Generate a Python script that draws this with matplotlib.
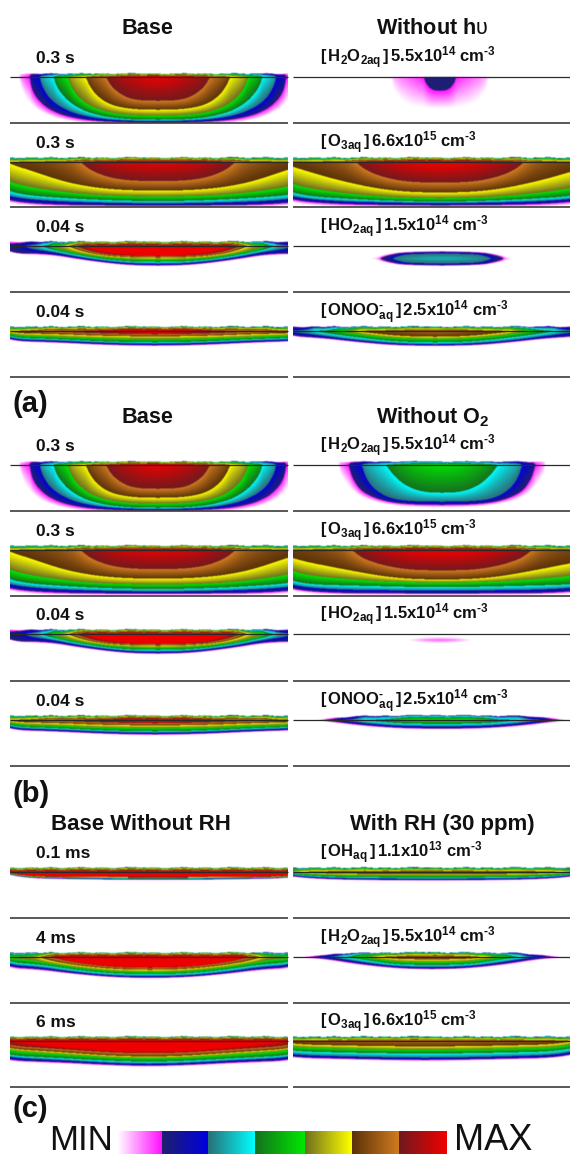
# Aqueous density maps, three groups of panels with one shared colour scale
import numpy as np
import matplotlib
matplotlib.use("Agg")
import matplotlib.pyplot as plt
from matplotlib.colors import LinearSegmentedColormap

plt.rcParams['font.family'] = ['Liberation Sans', 'DejaVu Sans']
plt.rcParams['mathtext.fontset'] = 'custom'
plt.rcParams['mathtext.rm'] = 'Liberation Sans'
plt.rcParams['mathtext.bf'] = 'Liberation Sans:bold'
plt.rcParams['mathtext.it'] = 'Liberation Sans:italic'

# band colours, dark end then bright end of each band
band_colors = [
    ("#ffffff", "#ff10ff"), ("#20206e", "#0000e0"), ("#2a6f78", "#00ffff"),
    ("#15701f", "#00e800"), ("#6f6f20", "#ffff00"), ("#5a3208", "#d07a20"),
    ("#701a1e", "#f00000"),
]

# Each map is 8 contours (band edges, outermost first), each contour is
# (distance from centre, depth under the surface) in px.
h2o2_base = [
    [(0,47),(70,46.5),(100,42),(118,35),(129,26),(135,16),(138,6),(138.5,0)],
    [(0,46),(60,44.5),(90,40),(108,33),(119,24),(125,15),(127.5,6),(128,0)],
    [(0,44.5),(50,43),(80,38),(98,30),(109,21),(115,11),(117.5,4),(118,0)],
    [(0,43),(40,42),(70,36),(88,26),(98,15),(103,6),(104,0)],
    [(0,39),(40,37.5),(65,31),(79,21),(87,10),(90,0)],
    [(0,33),(30,32),(50,27),(62,18),(69,8),(72,0)],
    [(0,24),(25,23),(38,17),(47,9),(52,0)],
    [(0,0),(20,-6),(50,-30)],
]
o3_base = [
    [(0,45.5),(150,44.5)],
    [(0,44),(150,42)],
    [(0,42.5),(150,38)],
    [(0,39.5),(75,37.5),(150,32)],
    [(0,35),(75,33),(150,22)],
    [(0,29),(50,27.5),(90,21),(120,11),(148,2),(155,-2)],
    [(0,19.5),(40,18),(65,10),(78,0)],
    [(0,0),(50,-8),(80,-30)],
]
ho2_base = [
    [(0,20.5),(35,19.5),(75,14.5),(110,9),(150,8)],
    [(0,19.5),(35,18.5),(75,13.5),(110,7.5),(150,7.5)],
    [(0,18),(35,17),(75,12),(105,6),(128,3),(135,-1)],
    [(0,16),(40,15),(75,10),(100,5),(112,2),(118,-1)],
    [(0,13.5),(40,12.5),(70,9),(90,5),(103,2),(106,-1)],
    [(0,12),(40,11),(65,8),(82,3.5),(92,-1)],
    [(0,10.5),(40,9.5),(60,7),(75,3),(85,-1)],
    [(0,9.5),(30,8.5),(55,5.5),(68,2),(75,-2)],
]
onoo_base = [
    [(0,15.5),(50,14.5),(100,12),(150,10.5)],
    [(0,14.5),(50,13.5),(100,11),(150,9.5)],
    [(0,13),(50,12),(100,9.5),(150,8)],
    [(0,11.5),(50,10.5),(100,8),(150,6.5)],
    [(0,8),(50,7.5),(100,5.5),(150,4)],
    [(0,5.5),(50,5),(100,3),(150,2)],
    [(0,3.5),(50,2.5),(90,1),(120,-1)],
    [(0,2),(30,0.5),(60,-3)],
]
h2o2_no_hv = [
    [(0,32),(25,30),(38,24),(45,15),(48,6),(49,0)],
    [(0,14),(8,13),(13,8),(15.5,3),(16,-1),(30,-12),(50,-30)],
    [], [], [], [], [], [],
]
o3_no_hv = [
    [(0,45.5),(150,44)],
    [(0,44),(150,41)],
    [(0,42),(150,38)],
    [(0,40),(75,38),(150,33)],
    [(0,37),(75,34),(150,24)],
    [(0,31),(50,29),(100,19),(147,5),(160,0)],
    [(0,21),(40,19.5),(70,11),(85,0)],
    [(0,3),(40,-3),(90,-25)],
]
ho2_no_hv = [
    [(0,7.8),(40,6.8),(55,4.5),(65,2),(73,0)],
    [(0,7),(40,6),(50,4),(58,2),(62,0)],
    [(0,5),(35,4.5),(45,2),(50,0)],
    [(0,-1),(60,-20)],
    [], [], [], [],
]
onoo_no_hv = [
    [(0,15.5),(40,15),(80,11.5),(110,8),(150,5.5)],
    [(0,14.5),(40,14),(80,10.5),(110,7),(150,4.5)],
    [(0,13.5),(40,12.5),(80,9),(110,5),(135,2),(150,-0.5)],
    [(0,11.5),(40,10.5),(80,6),(110,2),(125,-1)],
    [(0,8),(40,7),(70,4),(100,-0.5)],
    [(0,6),(35,5),(60,2.5),(80,0)],
    [(0,-1),(40,-6),(80,-20)],
    [],
]
h2o2_no_o2 = [
    [(0,42.5),(40,41.5),(68,37),(85,30),(96,19),(102,8),(103,0)],
    [(0,40),(40,39),(62,35),(80,27),(88,16),(92,6),(93,0)],
    [(0,37),(40,36),(58,31),(70,22),(77,11),(80,0)],
    [(0,28),(20,27),(36,21),(48,11),(56,0)],
    [(0,-2),(25,-8),(60,-35)],
    [], [], [],
]
o3_no_o2 = [
    [(0,45),(150,44.7)],
    [(0,43.5),(150,42.7)],
    [(0,41),(150,39)],
    [(0,37.5),(75,36),(150,34)],
    [(0,33),(75,31),(150,24)],
    [(0,30),(50,28),(100,19),(150,9),(165,0)],
    [(0,20.7),(40,19.5),(75,11),(91,0)],
    [(0,2),(50,-3),(95,-25)],
]
ho2_no_o2 = [
    [(0,3.2),(15,2.8),(25,1.8),(33,0)],
    [(0,-1),(20,-3),(40,-10)],
    [], [], [], [], [], [],
]
onoo_no_o2 = [
    [(0,9.5),(40,9),(80,6.5),(110,2.5),(128,0.3),(135,-1)],
    [(0,8.5),(40,8),(75,5.5),(105,2),(120,0)],
    [(0,6.5),(40,6),(70,4),(95,1),(105,-1)],
    [(0,4),(40,3.5),(65,1.5),(85,-1)],
    [(0,0.5),(30,0),(50,-2)],
    [], [], [],
]
oh_no_rh = [
    [(0,8.2),(60,7.9),(150,6.2)],
    [(0,7.6),(60,7.3),(150,5.8)],
    [(0,7),(60,6.7),(150,5.5)],
    [(0,6.4),(60,6.1),(150,5.2)],
    [(0,5.9),(60,5.6),(150,4.9)],
    [(0,5.4),(60,5.1),(150,4.6)],
    [(0,5),(60,4.7),(150,4.3)],
    [(0,4.5),(60,4.2),(150,3.8)],
]
h2o2_no_rh = [
    [(0,21.7),(40,20.7),(80,17),(110,13.5),(145,11.7)],
    [(0,20.7),(40,19.8),(80,16),(110,12),(145,10)],
    [(0,19.3),(40,18.5),(80,14.5),(110,10),(145,7.7)],
    [(0,17.3),(40,16.5),(80,12),(110,7.5),(145,5)],
    [(0,15),(40,14),(80,9.5),(110,4.5),(125,2),(145,1)],
    [(0,13),(40,12),(80,7.5),(105,2.5),(112,-1)],
    [(0,11),(40,10),(80,5),(95,1),(105,-1)],
    [(0,10),(40,9),(75,5),(90,1),(98,-1)],
]
o3_no_rh = [
    [(0,26),(40,25),(90,22.5),(150,20.3)],
    [(0,24.7),(40,23.7),(90,21),(150,19)],
    [(0,23),(40,22),(90,19),(150,16.3)],
    [(0,20.7),(40,19.7),(90,17),(150,14)],
    [(0,17.3),(40,16.3),(90,13),(150,9)],
    [(0,15.7),(40,14.7),(90,11),(150,7.3)],
    [(0,12.3),(40,11.5),(90,8),(150,4)],
    [(0,10.7),(40,10),(90,5.5),(125,2),(140,-1)],
]
oh_rh = [
    [(0,9.3),(150,7.3)],
    [(0,8.5),(150,6.5)],
    [(0,7.3),(150,5.5)],
    [(0,5.7),(150,4.5)],
    [(0,3.5),(150,3)],
    [(0,2),(150,1.5)],
    [(0,-0.5),(150,-4)],
    [],
]
h2o2_rh = [
    [(0,12.7),(35,12),(75,8),(105,3),(125,1),(145,0.3)],
    [(0,12),(35,11),(72,7),(100,2.5),(120,0.3),(130,-1)],
    [(0,10.3),(35,9.5),(65,6),(90,2),(105,0),(115,-1)],
    [(0,8),(35,7.5),(60,4),(80,1),(95,-1)],
    [(0,5.3),(35,4.5),(55,2),(70,0),(80,-1)],
    [(0,2.5),(35,2),(50,0),(60,-1)],
    [(0,-0.5),(35,-3),(60,-8)],
    [],
]
o3_rh = [
    [(0,20.3),(60,19.3),(150,17)],
    [(0,19),(60,18),(150,16)],
    [(0,17),(60,16),(150,13.5)],
    [(0,12.7),(60,12),(150,10)],
    [(0,8.5),(60,8),(150,6)],
    [(0,5.5),(60,5),(150,3)],
    [(0,-1),(150,-5)],
    [],
]

# thickness of the thin layer above the surface (distance from centre, px)
top_full = [(0, 3.5), (170, 3.5)]
top_thick = [(0, 4.5), (170, 4.5)]
top_lens = [(0, 5), (85, 4), (110, 2), (130, 0)]
top_none = [(0, 0), (170, 0)]
top_wobble = [1.0, 0.85, 1.05, 0.9, 1.1, 0.85, 1.0, 1.1, 0.9, 1.05, 0.85, 1.05, 1.1, 0.95,
              1.05, 0.85, 1.0, 1.1, 0.9, 1.05, 0.85, 1.05, 1.1, 0.9, 1.0, 1.1, 0.85, 1.0]

# labels
time_a = ["0.3 s", "0.3 s", "0.04 s", "0.04 s"]
time_c = ["0.1 ms", "4 ms", "6 ms"]
h2o2_label = "$\\mathbf{[\\,H_{2}O_{2aq}\\,]\\,5.5x10^{14}\\ cm^{\u20103}}$"
o3_label = "$\\mathbf{[\\,O_{3aq}\\,]\\,6.6x10^{15}\\ cm^{\u20103}}$"
ho2_label = "$\\mathbf{[\\,HO_{2aq}\\,]\\,1.5x10^{14}\\ cm^{\u20103}}$"
onoo_label = "$\\mathbf{[\\,ONOO^{\u2010}_{aq}\\,]\\,2.5x10^{14}\\ cm^{\u20103}}$"
oh_label = "$\\mathbf{[\\,OH_{aq}\\,]\\,1.1x10^{13}\\ cm^{\u20103}}$"

# rows: surface y, bottom line y, left map, left centre, left top, right map, right centre, right top, mirror depth
rows = [
    (77, 123, h2o2_base, 158, top_full, h2o2_no_hv, 440, top_none, None),
    (162, 207, o3_base, 158, top_thick, o3_no_hv, 440, top_thick, None),
    (246, 292, ho2_base, 158, top_thick, ho2_no_hv, 442, top_none, 12.5),
    (331, 377, onoo_base, 155, top_thick, onoo_no_hv, 435, top_thick, None),
    (465, 511, h2o2_base, 158, top_full, h2o2_no_o2, 442, top_full, None),
    (550, 596, o3_base, 158, top_thick, o3_no_o2, 442, top_thick, None),
    (634, 681, ho2_base, 158, top_thick, ho2_no_o2, 440, top_none, 6),
    (720, 766, onoo_base, 155, top_thick, onoo_no_o2, 442, top_lens, None),
    (872, 918, oh_no_rh, 158, top_thick, oh_rh, 432, top_thick, None),
    (957, 1003, h2o2_no_rh, 150, top_thick, h2o2_rh, 432, top_lens, None),
    (1041, 1087, o3_no_rh, 149, top_thick, o3_rh, 425, top_thick, None),
]
row_text = [h2o2_label, o3_label, ho2_label, onoo_label,
            h2o2_label, o3_label, ho2_label, onoo_label,
            oh_label, h2o2_label, o3_label]
row_time = time_a + time_a + time_c

# colormap with a jump between bands
stops = []
for k, (c0, c1) in enumerate(band_colors):
    stops.append((k / 7, c0))
    stops.append(((k + 1) / 7, c1))
cmap = LinearSegmentedColormap.from_list("bands", stops, N=1400)


def blur(a):
    k = np.array([0.25, 0.5, 0.25])
    a = np.pad(a, ((1, 1), (1, 1), (0, 0)), mode="edge")
    a = np.apply_along_axis(lambda c: np.convolve(c, k, mode="same"), 0, a)
    a = np.apply_along_axis(lambda c: np.convolve(c, k, mode="same"), 1, a)
    return a[1:-1, 1:-1]


def round_off(rr, dd, n=3):
    # corner cutting so the read polylines come out as smooth contours
    pts = np.column_stack([rr, dd]).astype(float)
    pts = np.vstack([[-pts[1, 0], pts[1, 1]], pts])
    for _ in range(n):
        q = 0.75 * pts[:-1] + 0.25 * pts[1:]
        s = 0.25 * pts[:-1] + 0.75 * pts[1:]
        mid = np.empty((len(q) * 2, 2))
        mid[0::2] = q
        mid[1::2] = s
        pts = np.vstack([pts[0], mid, pts[-1]])
    return pts[:, 0], pts[:, 1]


def draw_map(ax, contours, x0, x1, centre, surface, bottom, top, mirror=None):
    xs = np.arange(x0, x1, 0.5) + 0.25
    ys = np.arange(surface - 7, bottom, 0.5) + 0.25
    r = np.abs(xs - centre)
    depth = np.full((8, len(xs)), -99.0)
    for k, c in enumerate(contours):
        if not c:
            continue
        rr = [p[0] for p in c]
        dd = [p[1] for p in c]
        rr = rr + [rr[-1] + 12, rr[-1] + 50]
        dd = dd + [dd[-1] - 15, dd[-1] - 45]
        sr, sd = round_off(rr, dd)
        depth[k] = np.interp(r, sr, sd)

    wob = np.interp(np.linspace(0, 1, len(xs)), np.linspace(0, 1, len(top_wobble)), top_wobble)
    thick = np.interp(r, [p[0] for p in top], [p[1] for p in top]) * wob

    field = np.zeros((len(ys), len(xs)))
    vals = np.arange(7, -1, -1.0)
    for j in range(len(xs)):
        xp = np.maximum.accumulate(depth[::-1, j]) + 1e-6 * np.arange(8)
        if mirror is not None:
            field[:, j] = np.interp(np.abs(ys - surface - mirror), xp, vals, right=0)
            continue
        d = ys - surface
        col = np.interp(np.maximum(d, 0), xp, vals, right=0)
        if thick[j] > 0:
            frac = np.clip(1 + d / thick[j], 0, 1) ** 0.3
        else:
            frac = (d >= 0) * 1.0
        field[:, j] = np.where(d < 0, col * frac, col)

    rgb = blur(cmap(field / 7)[:, :, :3])
    ax.imshow(rgb, extent=(x0, x1, bottom, surface - 7), aspect="auto",
              interpolation="bilinear", zorder=1)


fig = plt.figure(figsize=(5.7, 11.56), dpi=100)
ax = fig.add_axes([0, 0, 1, 1])

for i, row in enumerate(rows):
    surface, bottom, lmap, lc, ltop, rmap, rc, rtop, mirror = row
    draw_map(ax, lmap, 10, 288, lc, surface, bottom, ltop)
    draw_map(ax, rmap, 293, 570, rc, surface, bottom, rtop, mirror)
    for x0, x1 in [(10, 288), (293, 570)]:
        ax.plot([x0, x1], [surface, surface], color="#2a2a2a", lw=0.9, zorder=3, solid_capstyle="butt")
        ax.plot([x0, x1], [bottom, bottom], color="#3c3c3c", lw=1.2, zorder=3, solid_capstyle="butt")
    ax.text(36, surface - 14, row_time[i], fontsize=12.5, fontweight="bold", color="#111111", zorder=4)
    ax.text(320, surface - 14, row_text[i], fontsize=12, color="#111111", zorder=4)

# headers
ax.text(147, 34, "Base", fontsize=15.6, fontweight="bold", ha="center", color="#111111")
ax.text(376, 34, "$\\mathbf{Without\\ h}\\mathrm{\u03c5}$", fontsize=15.6, color="#111111")
ax.text(147, 423, "Base", fontsize=15.6, fontweight="bold", ha="center", color="#111111")
ax.text(376, 423, r"$\mathbf{Without\ O_{2}}$", fontsize=15.6, color="#111111")
ax.text(141, 830, "Base Without RH", fontsize=16, fontweight="bold", ha="center", color="#111111")
ax.text(442, 830, "With RH (30 ppm)", fontsize=16, fontweight="bold", ha="center", color="#111111")
ax.text(12, 412, "(a)", fontsize=21, fontweight="bold", color="#111111")
ax.text(12, 802, "(b)", fontsize=21, fontweight="bold", color="#111111")
ax.text(12, 1117, "(c)", fontsize=21, fontweight="bold", color="#111111")

# colour scale
scale_edges = [117, 162, 208, 255, 305, 352, 399, 447]
for k in range(7):
    strip = np.linspace(k + 0.001, k + 0.999, 64).reshape(1, -1) / 7
    ax.imshow(strip, cmap=cmap, vmin=0, vmax=1, aspect="auto",
              extent=(scale_edges[k], scale_edges[k + 1], 1154, 1131), zorder=1)
ax.text(113, 1150, "MIN", fontsize=25, ha="right", color="#111111")
ax.text(454, 1150, "MAX", fontsize=26, ha="left", color="#111111")

ax.set_xlim(0, 570)
ax.set_ylim(1156, 0)
ax.axis("off")
fig.savefig("out.png", dpi=100)
